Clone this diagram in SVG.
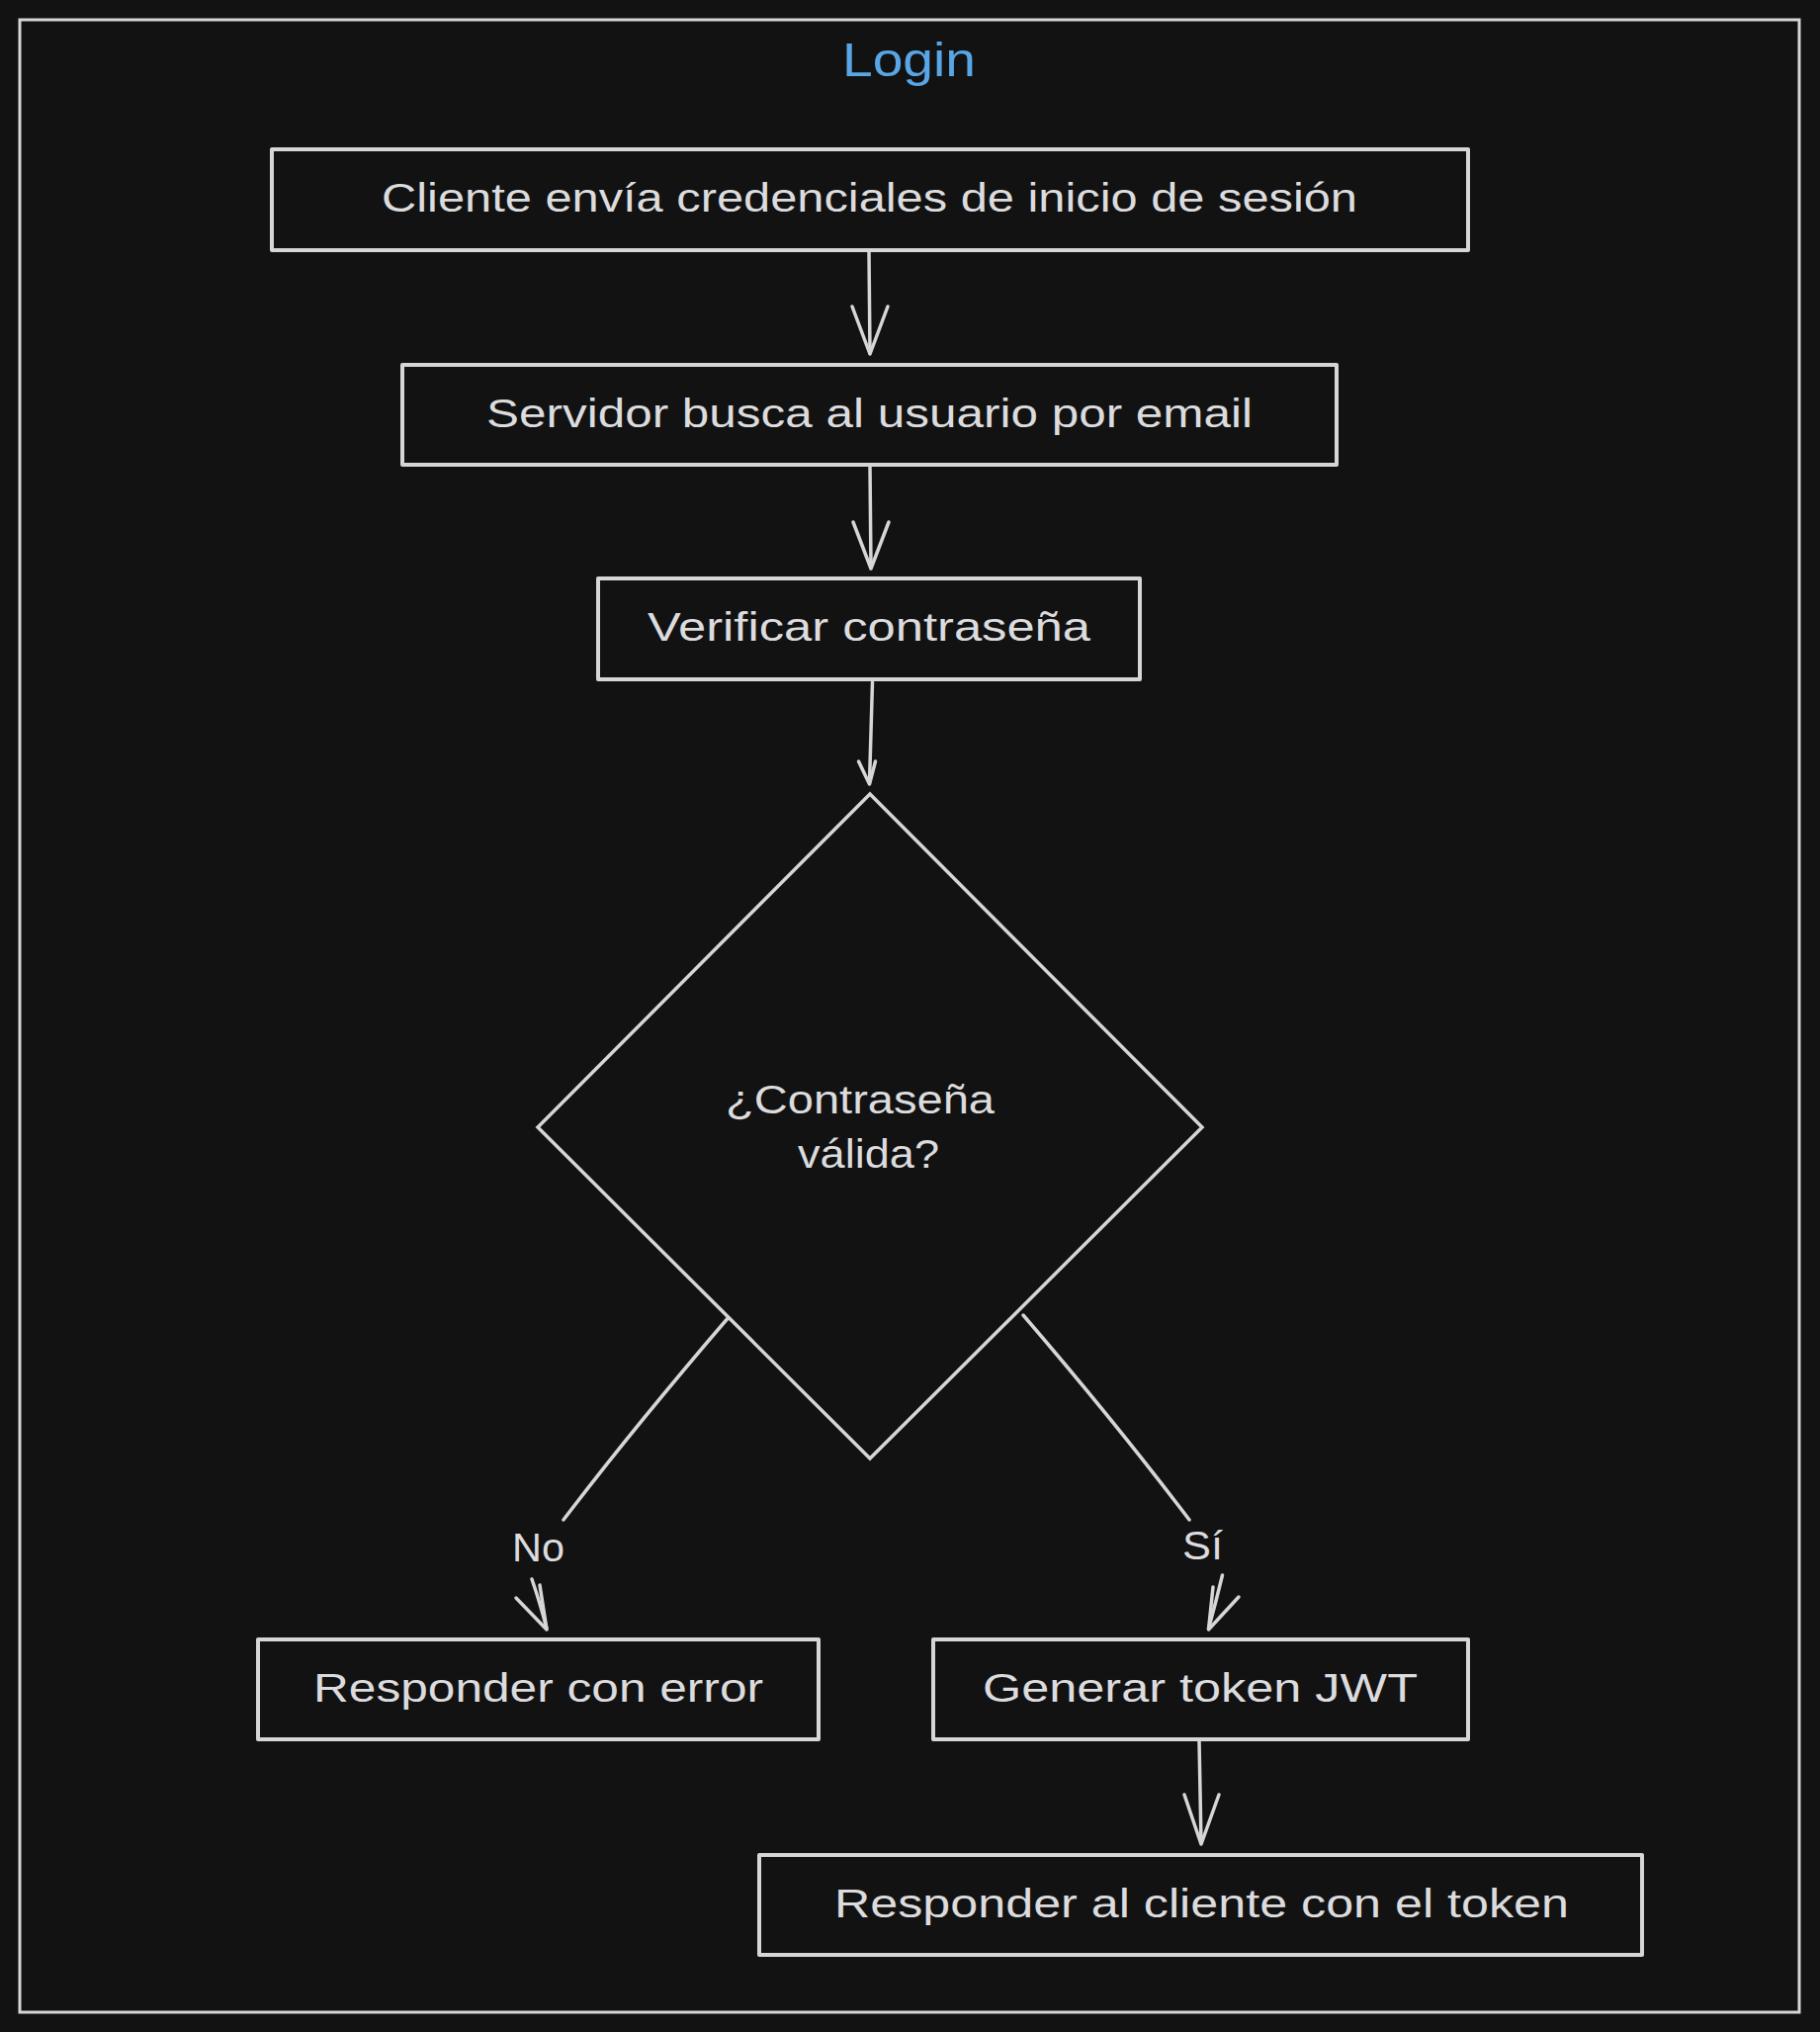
<svg xmlns="http://www.w3.org/2000/svg" width="1841" height="2055" viewBox="0 0 1841 2055">
  <style>
    .bg { fill: #121212; }
    .frame { fill: none; stroke: #d6d6d8; stroke-width: 3; }
    .box { fill: #121212; stroke: #d6d6d8; stroke-width: 4; stroke-linejoin: round; }
    .dia { fill: #121212; stroke: #d6d6d8; stroke-width: 3.5; stroke-linejoin: miter; }
    .txt { font-family: "Liberation Sans", Arial, sans-serif; font-size: 40px; fill: #dcdcde; }
    .title { font-family: "Liberation Sans", Arial, sans-serif; font-size: 48px; fill: #58a6e6; }
    .lbl { font-family: "Liberation Sans", Arial, sans-serif; font-size: 40px; fill: #dcdcde; }
    .edge { fill: none; stroke: #d6d6d8; stroke-width: 3.5; stroke-linecap: round; stroke-linejoin: round; }
    .head { fill: none; stroke: #d6d6d8; stroke-width: 3.5; stroke-linecap: round; stroke-linejoin: round; }
  </style>
  <rect class="bg" x="0" y="0" width="1841" height="2055"/>

  <g id="frame-login">
    <rect class="frame" x="20" y="20" width="1800" height="2015"/>
    <text class="title" x="852" y="77" textLength="135" lengthAdjust="spacingAndGlyphs">Login</text>
  </g>

  <g id="connectors">
    <!-- Cliente -> Servidor -->
    <path class="edge" d="M879,255 L880,357"/>
    <path class="head" d="M862,310 L880,358 L898,310"/>
    <!-- Servidor -> Verificar -->
    <path class="edge" d="M880,471 L881,574"/>
    <path class="head" d="M863,528 L881,575 L899,528"/>
    <!-- Verificar -> Decision -->
    <path class="edge" d="M882.5,690 L879.5,792"/>
    <path class="head" d="M868.5,770 L879.5,793 L885.5,770"/>
    <!-- Decision -> Responder con error (No) -->
    <path class="edge" d="M738,1331 Q640,1445 570,1537"/>
    <path class="edge" d="M538,1597 Q546,1620 553,1647"/>
    <path class="head" d="M522,1616 L553,1648 L546,1603"/>
    <text class="lbl" x="518" y="1579" textLength="53" lengthAdjust="spacingAndGlyphs">No</text>
    <!-- Decision -> Generar token (Sí) -->
    <path class="edge" d="M1035,1330 Q1128,1438 1203,1537"/>
    <path class="edge" d="M1236.5,1593 Q1230,1620 1222.5,1647"/>
    <path class="head" d="M1227,1605 L1222.5,1648 L1253,1615"/>
    <text class="lbl" x="1196" y="1577" textLength="41" lengthAdjust="spacingAndGlyphs">Sí</text>
    <!-- Generar token -> Responder al cliente -->
    <path class="edge" d="M1213,1760 L1215,1864"/>
    <path class="head" d="M1198,1815 L1215,1865 L1233,1815"/>
  </g>

  <g id="node-cliente">
    <rect class="box" x="275" y="151" width="1210" height="102"/>
    <text class="txt" x="386" y="214" textLength="987" lengthAdjust="spacingAndGlyphs">Cliente envía credenciales de inicio de sesión</text>
  </g>

  <g id="node-servidor">
    <rect class="box" x="407" y="369" width="945" height="101"/>
    <text class="txt" x="492" y="432" textLength="775" lengthAdjust="spacingAndGlyphs">Servidor busca al usuario por email</text>
  </g>

  <g id="node-verificar">
    <rect class="box" x="605" y="585" width="548" height="102"/>
    <text class="txt" x="655" y="648" textLength="448" lengthAdjust="spacingAndGlyphs">Verificar contraseña</text>
  </g>

  <g id="node-decision">
    <polygon class="dia" points="880,803 1216,1140 880,1475 544,1140"/>
    <text class="txt" x="734" y="1126" textLength="272" lengthAdjust="spacingAndGlyphs">¿Contraseña</text>
    <text class="txt" x="807" y="1181" textLength="143" lengthAdjust="spacingAndGlyphs">válida?</text>
  </g>

  <g id="node-error">
    <rect class="box" x="261" y="1658" width="567" height="101"/>
    <text class="txt" x="317" y="1721" textLength="455" lengthAdjust="spacingAndGlyphs">Responder con error</text>
  </g>

  <g id="node-token">
    <rect class="box" x="944" y="1658" width="541" height="101"/>
    <text class="txt" x="994" y="1721" textLength="440" lengthAdjust="spacingAndGlyphs">Generar token JWT</text>
  </g>

  <g id="node-responder-token">
    <rect class="box" x="768" y="1876" width="893" height="101"/>
    <text class="txt" x="844" y="1939" textLength="743" lengthAdjust="spacingAndGlyphs">Responder al cliente con el token</text>
  </g>
</svg>
